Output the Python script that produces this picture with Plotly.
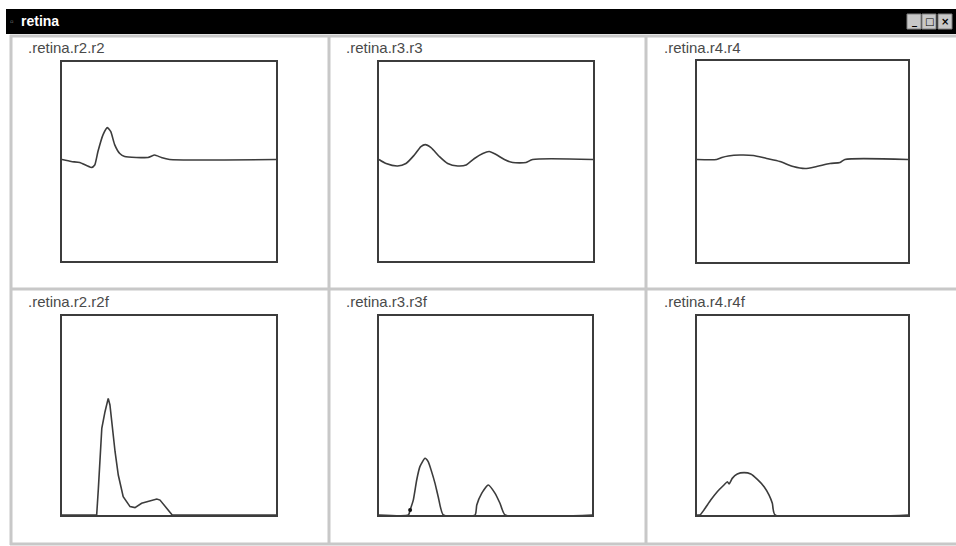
import plotly.graph_objects as go

W, H = 956, 546

# ---- data (time in % of window, response amplitude) ----
titles = [".retina.r2.r2", ".retina.r3.r3", ".retina.r4.r4",
          ".retina.r2.r2f", ".retina.r3.r3f", ".retina.r4.r4f"]

r2_t = [0, 4.3, 8.3, 13.7, 15.3, 16.8, 19.2, 21.2, 22.8, 24.6, 27.0, 29.3, 40.2, 43.3, 46.4, 50.3, 100]
r2_v = [0, -0.02, -0.03, -0.08, -0.055, 0.08, 0.25, 0.32, 0.28, 0.15, 0.06, 0.03, 0.02, 0.045, 0.02, 0.0, 0.0]

r3_t = [0, 3.3, 8.7, 12.6, 16.5, 19.6, 21.6, 24.3, 28.2, 32.1, 36.8, 40.7, 44.6, 48.5, 51.5, 54.7, 58.6, 62.5, 68.7, 71.8, 100]
r3_v = [0, -0.04, -0.065, -0.04, 0.045, 0.13, 0.15, 0.12, 0.03, -0.04, -0.065, -0.055, 0.01, 0.06, 0.08, 0.05, 0.0, -0.03, -0.03, 0.0, 0.0]

r4_t = [0, 9.3, 11.8, 14.8, 20.4, 26.7, 33.0, 39.3, 45.6, 51.2, 56.7, 63.0, 67.8, 70.1, 100]
r4_v = [0, 0, 0.02, 0.035, 0.045, 0.04, 0.01, -0.02, -0.07, -0.09, -0.07, -0.04, -0.03, 0.0, 0.0]

r2f_t = [0, 16.2, 17.0, 17.8, 18.6, 20.1, 21.6, 22.4, 23.2, 24.8, 26.3, 28.6, 31.8, 34.1, 37.2, 41.1, 44.3, 45.8, 48.9, 51.5, 100]
r2f_v = [0, 0, 0.134, 0.318, 0.436, 0.519, 0.586, 0.553, 0.469, 0.318, 0.201, 0.092, 0.042, 0.037, 0.059, 0.072, 0.080, 0.075, 0.034, 0.0, 0.0]

r3f_t = [0, 13.8, 14.6, 16.1, 17.7, 19.2, 21.6, 23.1, 24.7, 26.3, 27.8, 30.2, 45.1, 45.9, 48.2, 51.3, 54.5, 56.8, 59.2, 100]
r3f_v = [0, 0, 0.025, 0.075, 0.176, 0.243, 0.285, 0.268, 0.218, 0.159, 0.092, 0.0, 0.0, 0.05, 0.109, 0.151, 0.109, 0.059, 0.0, 0.0]

r4f_t = [0, 1.4, 3.3, 6.5, 9.6, 12.8, 14.4, 15.2, 16.7, 19.1, 22.3, 25.5, 28.6, 31.8, 34.1, 35.7, 37.0, 100]
r4f_v = [0, 0, 0.025, 0.075, 0.117, 0.151, 0.167, 0.156, 0.184, 0.206, 0.213, 0.206, 0.179, 0.142, 0.101, 0.059, 0.0, 0.0]

series = [(r2_t, r2_v), (r3_t, r3_v), (r4_t, r4_v),
          (r2f_t, r2f_v), (r3f_t, r3f_v), (r4f_t, r4f_v)]

# ---- layout (pixel boxes) ----
boxes = [(62, 276, 62, 261), (379, 593, 62, 261), (697, 908, 61, 262),
         (62, 276, 316, 515), (379, 592, 316, 515), (697, 908, 316, 515)]
label_x = [26, 344, 662, 26, 344, 662]
label_y = [58, 58, 58, 312, 312, 312]
smooth = [0.5, 0.7, 0.7, 0.0, 0.5, 0.6]

def px(x):
    return x / W

def py(y):
    return 1 - y / H

LINE = "#3c3c3c"
fig = go.Figure()
layout = dict(width=W, height=H, margin=dict(l=0, r=0, t=0, b=0),
              paper_bgcolor="white", plot_bgcolor="white", showlegend=False)

for i, ((t, v), (x0, x1, y0, y1)) in enumerate(zip(series, boxes)):
    n = i + 1
    xa = "xaxis" if n == 1 else f"xaxis{n}"
    ya = "yaxis" if n == 1 else f"yaxis{n}"
    xr = "x" if n == 1 else f"x{n}"
    yr = "y" if n == 1 else f"y{n}"
    yrange = [-1.02, 0.98] if i < 3 else [0, 1]
    common = dict(showline=True, mirror=True, linecolor=LINE, linewidth=2,
                  showgrid=False, zeroline=False, showticklabels=False,
                  ticks="", fixedrange=True)
    layout[xa] = dict(domain=[px(x0), px(x1)], range=[0, 100], anchor=yr, **common)
    layout[ya] = dict(domain=[py(y1), py(y0)], range=yrange, anchor=xr, **common)
    if smooth[i] > 0:
        ln = dict(color=LINE, width=1.6, shape="spline", smoothing=smooth[i])
    else:
        ln = dict(color=LINE, width=1.6)
    fig.add_trace(go.Scatter(x=t, y=v, mode="lines", xaxis=xr, yaxis=yr,
                             line=ln, hoverinfo="skip"))

# small dot on r3f curve
fig.add_trace(go.Scatter(x=[r3f_t[2]], y=[r3f_v[2]], mode="markers", xaxis="x5", yaxis="y5",
                         marker=dict(color="#111", size=4), hoverinfo="skip"))

shapes = []
# window title bar
shapes.append(dict(type="rect", xref="paper", yref="paper", x0=px(6), x1=1.0,
                   y0=py(34), y1=py(9), fillcolor="black", line=dict(width=0), layer="below"))
# title bar buttons
for bx in [907, 922, 938]:
    shapes.append(dict(type="rect", xref="paper", yref="paper", x0=px(bx), x1=px(bx + 14),
                       y0=py(29), y1=py(14), fillcolor="#c8c8c8",
                       line=dict(color="#808080", width=1)))
# panel separators
SEP = "#c8c8c8"
for xx in [11, 329, 646]:
    shapes.append(dict(type="line", xref="paper", yref="paper", x0=px(xx), x1=px(xx),
                       y0=py(35), y1=py(545), line=dict(color=SEP, width=3)))
for yy in [36, 289, 544]:
    shapes.append(dict(type="line", xref="paper", yref="paper", x0=px(10), x1=1.0,
                       y0=py(yy), y1=py(yy), line=dict(color=SEP, width=3)))
layout["shapes"] = shapes

ann = []
for txt, lx, ly in zip(titles, label_x, label_y):
    ann.append(dict(text=txt, xref="paper", yref="paper", x=px(lx), y=py(ly),
                    xanchor="left", yanchor="bottom", showarrow=False,
                    font=dict(family="Liberation Sans, Arial", size=15, color="#4a4a4a")))
ann.append(dict(text="<b>retina</b>", xref="paper", yref="paper", x=px(19), y=py(21.5),
                xanchor="left", yanchor="middle", showarrow=False,
                font=dict(family="Liberation Sans, Arial", size=14, color="white")))
ann.append(dict(text="▫", xref="paper", yref="paper", x=px(12), y=py(21.5),
                xanchor="center", yanchor="middle", showarrow=False,
                font=dict(size=10, color="#888")))
for bx, g in zip([907, 922, 938], ["_", "□", "×"]):
    ann.append(dict(text=f"<b>{g}</b>", xref="paper", yref="paper", x=px(bx + 7), y=py(21.5),
                    xanchor="center", yanchor="middle", showarrow=False,
                    font=dict(family="DejaVu Sans", size=10, color="black")))
layout["annotations"] = ann

fig.update_layout(**layout)
fig.write_html("out.html", config={"displayModeBar": False},
               post_script="document.body.style.margin='0px';document.body.style.overflow='hidden';")
